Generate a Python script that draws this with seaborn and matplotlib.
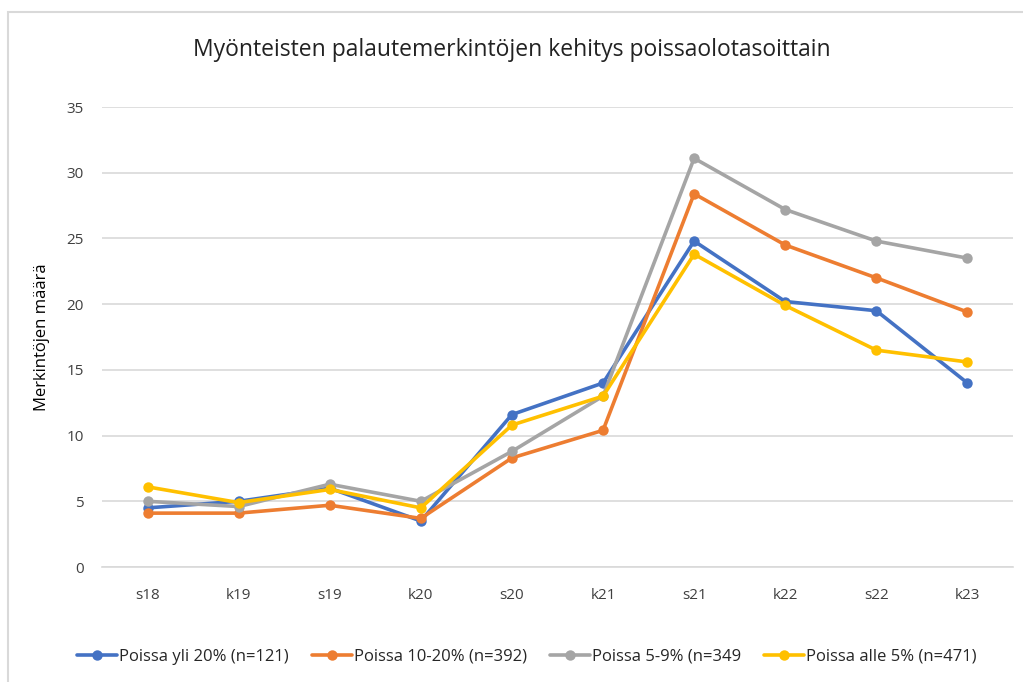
import pandas as pd
import seaborn as sns
import matplotlib.pyplot as plt
from matplotlib.patches import Rectangle

periods = ["s18", "k19", "s19", "k20", "s20", "k21", "s21", "k22", "s22", "k23"]
yli_20 = [4.5, 5.0, 6.0, 3.5, 11.6, 14.0, 24.8, 20.2, 19.5, 14.0]
p10_20 = [4.1, 4.1, 4.7, 3.7, 8.3, 10.4, 28.4, 24.5, 22.0, 19.4]
p5_9 = [5.0, 4.6, 6.3, 5.0, 8.8, 13.0, 31.1, 27.2, 24.8, 23.5]
alle_5 = [6.1, 4.9, 5.9, 4.5, 10.8, 13.0, 23.8, 19.9, 16.5, 15.6]

series_names = ["Poissa yli 20% (n=121)", "Poissa 10-20% (n=392)",
                "Poissa 5-9% (n=349", "Poissa alle 5% (n=471)"]
colors = ["#4472C4", "#ED7D31", "#A5A5A5", "#FFC000"]


def build_frame() -> pd.DataFrame:
    rows = []
    for name, vals in zip(series_names, [yli_20, p10_20, p5_9, alle_5]):
        for i, (p, v) in enumerate(zip(periods, vals)):
            rows.append({"idx": i, "period": p, "value": v, "series": name})
    return pd.DataFrame(rows)


def main() -> None:
    sns.set_theme(style="white")
    plt.rcParams['font.family'] = ['Open Sans', 'DejaVu Sans']

    df = build_frame()
    fig = plt.figure(figsize=(10.23, 6.82), dpi=100)
    ax = fig.add_axes([0.0997, 0.1686, 0.8905, 0.6745])

    sns.lineplot(data=df, x="idx", y="value", hue="series", hue_order=series_names,
                 palette=colors, marker="o", markersize=7.5, markeredgewidth=0,
                 linewidth=2.6, ax=ax, legend=True)

    ax.set_ylim(0, 35)
    ax.set_yticks(range(0, 36, 5))
    ax.set_xlim(-0.5, len(periods) - 0.5)
    ax.set_xticks(range(len(periods)))
    ax.set_xticklabels(periods)
    ax.tick_params(axis="both", labelsize=11, colors="#404040", length=0)
    ax.tick_params(axis="x", pad=15)
    ax.tick_params(axis="y", pad=13)
    ax.yaxis.grid(True, color="#D9D9D9", linewidth=1.2)
    ax.set_axisbelow(True)
    for s in ["top", "right", "left"]:
        ax.spines[s].set_visible(False)
    ax.spines["bottom"].set_color("#D9D9D9")
    ax.spines["bottom"].set_linewidth(1.2)
    ax.set_xlabel("")
    ax.set_ylabel("Merkintöjen määrä", fontsize=12, color="black", labelpad=12)

    fig.suptitle("Myönteisten palautemerkintöjen kehitys poissaolotasoittain",
                 y=0.945, fontsize=16.5, color="#222222")

    handles, labels = ax.get_legend_handles_labels()
    ax.get_legend().remove()
    fig.legend(handles, labels, loc="center", bbox_to_anchor=(0.515, 0.037),
               ncol=4, frameon=False, fontsize=12, handlelength=2.4,
               handletextpad=0.1, columnspacing=1.4)

    fig.patches.append(Rectangle((8 / 1023, -0.05), 1.1, 1.05 - 12 / 682,
                                 transform=fig.transFigure, fill=False,
                                 edgecolor="#D9D9D9", linewidth=1.5))

    plt.savefig("out.png", dpi=100)


if __name__ == "__main__":
    main()
